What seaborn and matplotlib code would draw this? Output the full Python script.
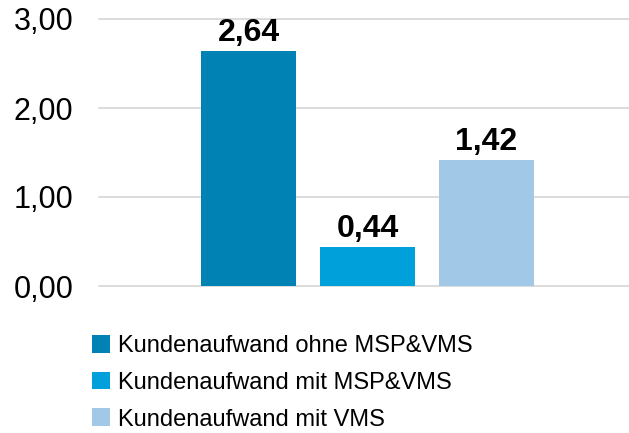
import numpy as np
import pandas as pd
import matplotlib.pyplot as plt
from matplotlib.patches import Patch
import seaborn as sns

# Chart data
categories = ['Kundenaufwand ohne MSP&VMS', 'Kundenaufwand mit MSP&VMS', 'Kundenaufwand mit VMS']
values = [2.64, 0.44, 1.42]
value_labels = ['2,64', '0,44', '1,42']
tick_values = [0, 1, 2, 3]
tick_labels = ['0,00', '1,00', '2,00', '3,00']
colors = ['#0082B4', '#00A0DA', '#A2C8E8']

df = pd.DataFrame({'Kategorie': categories, 'Wert': values})

sns.set_style('white')
plt.rcParams['font.family'] = ['Liberation Sans', 'DejaVu Sans']
plt.rcParams['text.color'] = 'black'
plt.rcParams['ytick.color'] = 'black'

fig = plt.figure(figsize=(6.29, 4.33), dpi=100)
ax = fig.add_axes([99 / 629, 1 - 286 / 433, 530 / 629, 267 / 433])

sns.barplot(data=df, x='Kategorie', y='Wert', hue='Kategorie', palette=colors,
            saturation=1, width=0.8, legend=False, ax=ax, zorder=3,
            edgecolor='none', linewidth=0)

ax.set_xlim(-1.256, 3.197)
ax.set_ylim(0, 3.0)
ax.set_yticks(tick_values)
ax.set_yticklabels(tick_labels, fontsize=22, color='black')
ax.set_xticks([])
ax.set_xlabel('')
ax.set_ylabel('')
ax.tick_params(axis='y', length=0, pad=18.5)
ax.yaxis.grid(True, color='#D9D9D9', linewidth=1.3, zorder=0)
for ln in ax.get_ygridlines():
    ln.set_clip_on(False)
for s in ax.spines.values():
    s.set_visible(False)

# Value labels above bars
for i, (v, lab) in enumerate(zip(values, value_labels)):
    ax.text(i, v + 0.03, lab, ha='center', va='bottom', fontsize=23,
            fontweight='bold', color='black')

handles = [Patch(facecolor=c, edgecolor='none') for c in colors]
fig.legend(handles, categories, loc='upper left', bbox_to_anchor=(92 / 629, 1 - 335 / 433),
           frameon=False, fontsize=17, labelcolor='black', handlelength=0.78, handleheight=0.78,
           handletextpad=0.33, labelspacing=0.62, borderpad=0, borderaxespad=0)

fig.savefig('out.png', dpi=100)
